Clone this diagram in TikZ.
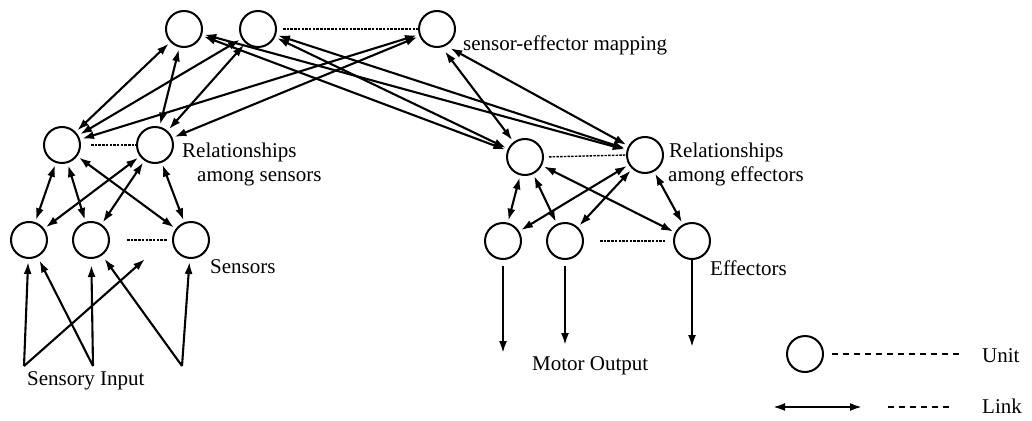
\documentclass[tikz,border=0pt]{standalone}
\usepackage{fontspec}
\setmainfont{Liberation Serif}
\usetikzlibrary{arrows.meta}
\begin{document}
\begin{tikzpicture}[x=1pt,y=-1pt,
 unit/.style={circle,draw,line width=2pt,minimum size=36pt,inner sep=0pt},
 tipa/.tip={Latex[length=12pt,width=8pt]},
 link/.style={line width=2.1pt,tipa-tipa,shorten <=2pt,shorten >=2pt},
 oneway/.style={line width=2.1pt,-tipa},
 more/.style={line width=1.4pt,dash pattern=on 2.5pt off 1.2pt},
 lbl/.style={font=\fontsize{21}{24}\selectfont,inner sep=0pt,anchor=base west},
 legdash/.style={line width=1.5pt,dash pattern=on 6pt off 5pt}]
\useasboundingbox (0,0) rectangle (1032,420);
% units
\node[unit] (T1) at (184,29) {};
\node[unit] (T2) at (258,29) {};
\node[unit] (T3) at (437,29) {};
\node[unit] (ML1) at (62,145) {};
\node[unit] (ML2) at (155,145) {};
\node[unit] (MR1) at (525,157) {};
\node[unit] (MR2) at (645,155) {};
\node[unit] (B1) at (29,240) {};
\node[unit] (B2) at (91,240) {};
\node[unit] (B3) at (191,240) {};
\node[unit] (E1) at (503,241) {};
\node[unit] (E2) at (565,241) {};
\node[unit] (E3) at (692,241) {};
% dotted "more units"
\draw[more,shorten <=6pt] (T2.east) -- (T3.west);
\draw[more,shorten <=10pt] (ML1.east) -- (ML2.west);
\draw[more,shorten <=5pt] (MR1.east) -- (MR2.west);
\draw[more,shorten <=17pt,shorten >=5pt] (B2.east) -- (B3.west);
\draw[more,shorten <=16pt,shorten >=8pt] (E2.east) -- (E3.west);
% top <-> middle links
\foreach \t in {T1,T2}{
  \foreach \m in {ML1,ML2,MR1,MR2}{
    \draw[link] (\t) -- (\m);
  }
}
\draw[link] (T3) -- (ML1);
\draw[link] (T3) -- (ML2);
\draw[link,shorten <=5pt] (T3.-75) -- (MR1);
\draw[link,shorten <=5pt] (T3.-62) -- (MR2);
% middle <-> bottom links
\foreach \m in {ML1,ML2}{
  \foreach \b in {B1,B2,B3}{
    \draw[link] (\m) -- (\b);
  }
}
\foreach \m in {MR1,MR2}{
  \foreach \e in {E1,E2,E3}{
    \draw[link] (\m) -- (\e);
  }
}
% sensory input
\coordinate (si1) at (24,366);
\coordinate (si2) at (93,366);
\coordinate (si3) at (182,366);
\coordinate (gap) at (145,259);
\draw[oneway,shorten >=3pt] (si1) -- (B1);
\draw[oneway] (si1) -- (gap);
\draw[oneway,shorten >=4pt] (si2) -- (B1);
\draw[oneway,shorten >=6pt] (si2) -- (B2);
\draw[oneway,shorten >=4pt] (si3) -- (B2);
\draw[oneway,shorten >=3pt] (si3) -- (B3);
% motor output
\coordinate (mo1) at (503,353);
\coordinate (mo2) at (565,345);
\coordinate (mo3) at (692,347);
\draw[oneway,shorten <=6pt] (E1) -- (mo1);
\draw[oneway,shorten <=6pt] (E2) -- (mo2);
\draw[oneway] (E3) -- (mo3);
% labels
\node[lbl] (lmap) at (463,50) {sensor-effector mapping};
\node[lbl] (lrs1) at (182,157) {Relationships};
\node[lbl] (lrs2) at (197,181) {among sensors};
\node[lbl] (lre1) at (669,157) {Relationships};
\node[lbl] (lre2) at (668,181) {among effectors};
\node[lbl] (lsen) at (210,273) {Sensors};
\node[lbl] (leff) at (710,275) {Effectors};
\node[lbl] (lsi) at (27,385) {Sensory Input};
\node[lbl] (lmo) at (532,370) {Motor Output};
% legend
\node[unit] (LU) at (805,354) {};
\coordinate (lu2) at (963,354);
\draw[legdash,shorten <=8pt] (LU.east) -- (lu2);
\node[lbl] (lunit) at (982,362) {Unit};
\coordinate (la1) at (773,407);
\coordinate (la2) at (862,407);
\draw[line width=2.1pt,tipa-tipa] (la1) -- (la2);
\coordinate (ld1) at (888,407);
\coordinate (ld2) at (950,407);
\draw[legdash] (ld1) -- (ld2);
\node[lbl] (llink) at (982,413) {Link};
\end{tikzpicture}
\end{document}
